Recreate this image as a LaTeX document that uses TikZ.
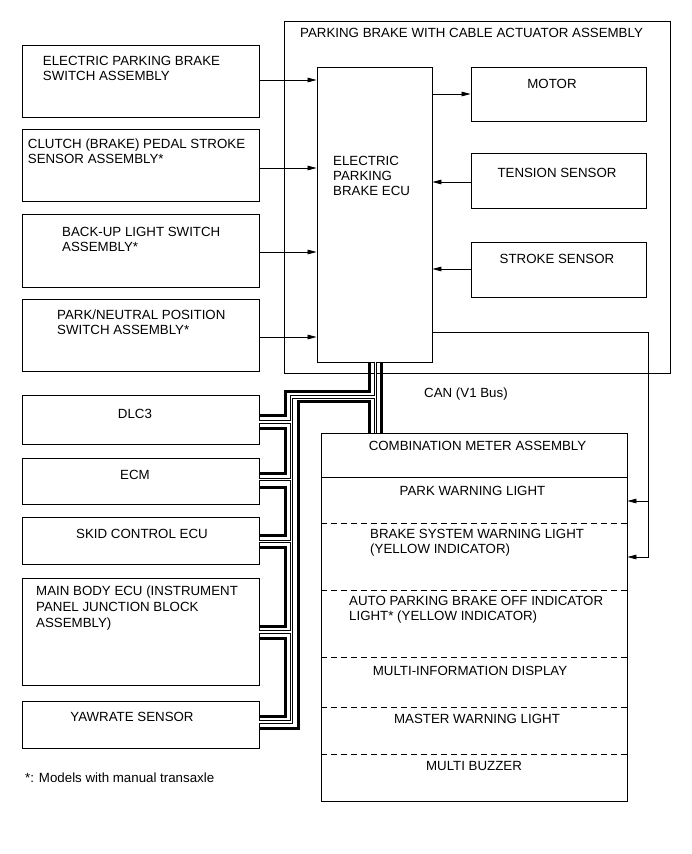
\documentclass[tikz,border=0pt]{standalone}
\usepackage{fontspec}
\setmainfont{Liberation Sans}
\usetikzlibrary{arrows.meta}
\begin{document}
\begin{tikzpicture}[x=1pt,y=-1pt,
  box/.style={draw, line width=0.9pt, inner sep=0pt, rectangle},
  txt/.style={inner sep=0pt, font=\fontsize{13.3pt}{15pt}\selectfont},
  arr/.style={line width=0.8pt, -{Triangle[length=9pt,width=4.6pt]}},
  thk/.style={line width=3pt},
  dbl/.style={double, line width=0.8pt, double distance=1.6pt},
  dsh/.style={line width=0.8pt, dash pattern=on 6pt off 4pt}]
\fill[white] (0,0) rectangle (691,854);
\useasboundingbox (0,0) rectangle (691,854);

% ---- boxes ----
\node[box, minimum width=386pt, minimum height=352pt] (pb) at (477,197.8) {};
\node[box, minimum width=115pt, minimum height=295pt] (ecu) at (374.5,214.5) {};
\node[box, minimum width=175pt, minimum height=54pt] (motor) at (558.5,94) {};
\node[box, minimum width=175pt, minimum height=55pt] (tens) at (558.5,180.5) {};
\node[box, minimum width=175pt, minimum height=55pt] (strk) at (558.5,269.5) {};

\node[box, minimum width=237pt, minimum height=72pt] (epb) at (140.5,81) {};
\node[box, minimum width=237pt, minimum height=72pt] (clutch) at (140.5,165) {};
\node[box, minimum width=237pt, minimum height=73pt] (backup) at (140.5,250.5) {};
\node[box, minimum width=237pt, minimum height=72pt] (park) at (140.5,335) {};

\node[box, minimum width=237pt, minimum height=49pt] (dlc) at (140.5,419.5) {};
\node[box, minimum width=237pt, minimum height=46pt] (ecm) at (140.5,481) {};
\node[box, minimum width=237pt, minimum height=47pt] (skid) at (140.5,540.5) {};
\node[box, minimum width=237pt, minimum height=107pt] (main) at (140.5,631.5) {};
\node[box, minimum width=237pt, minimum height=47pt] (yaw) at (140.5,724.5) {};

\node[box, minimum width=305.3pt, minimum height=368pt] (meter) at (474.35,617) {};

% meter dividers
\draw[line width=0.9pt] (meter.west |- 0,477) -- (meter.east |- 0,477);
\foreach \yy in {523,590,657,707,754}
  \draw[dsh] (meter.west |- 0,\yy) -- (meter.east |- 0,\yy);

% ---- texts ----
\node[txt, anchor=base west] (tpb) at (300,37) {PARKING BRAKE WITH CABLE ACTUATOR ASSEMBLY};
\node[txt, anchor=base west] (tecu1) at (333,165) {ELECTRIC};
\node[txt, anchor=base west] (tecu2) at (333,180) {PARKING};
\node[txt, anchor=base west] (tecu3) at (333,195) {BRAKE ECU};
\node[txt, anchor=base] (tmotor) at (552,88) {MOTOR};
\node[txt, anchor=base] (ttens) at (557,177) {TENSION SENSOR};
\node[txt, anchor=base] (tstrk) at (557,263) {STROKE SENSOR};

\node[txt, anchor=base west] (tepb1) at (42.7,65) {ELECTRIC PARKING BRAKE};
\node[txt, anchor=base west] (tepb2) at (42.7,80) {SWITCH ASSEMBLY};
\node[txt, anchor=base west] (tcl1) at (27.7,148) {CLUTCH (BRAKE) PEDAL STROKE};
\node[txt, anchor=base west] (tcl2) at (27.7,163) {SENSOR ASSEMBLY*};
\node[txt, anchor=base west] (tbu1) at (62,236) {BACK-UP LIGHT SWITCH};
\node[txt, anchor=base west] (tbu2) at (62,251) {ASSEMBLY*};
\node[txt, anchor=base west] (tpk1) at (57,319) {PARK/NEUTRAL POSITION};
\node[txt, anchor=base west] (tpk2) at (57,334.5) {SWITCH ASSEMBLY*};

\node[txt, anchor=base west] (tcan) at (424,397) {CAN (V1 Bus)};
\node[txt, anchor=base] (tdlc) at (135,418) {DLC3};
\node[txt, anchor=base] (tecm) at (135,479) {ECM};
\node[txt, anchor=base] (tskid) at (142,538) {SKID CONTROL ECU};
\node[txt, anchor=base west] (tmb1) at (36,595) {MAIN BODY ECU (INSTRUMENT};
\node[txt, anchor=base west] (tmb2) at (36,611) {PANEL JUNCTION BLOCK};
\node[txt, anchor=base west] (tmb3) at (36,627) {ASSEMBLY)};
\node[txt, anchor=base] (tyaw) at (132,721) {YAWRATE SENSOR};
\node[txt, anchor=base west] (tfoot) at (25,782) {*: Models with manual transaxle};

\node[txt, anchor=base] (tm0) at (477.5,450) {COMBINATION METER ASSEMBLY};
\node[txt, anchor=base] (tm1) at (472.5,495) {PARK WARNING LIGHT};
\node[txt, anchor=base west] (tm2a) at (370,538) {BRAKE SYSTEM WARNING LIGHT};
\node[txt, anchor=base west] (tm2b) at (370,553) {(YELLOW INDICATOR)};
\node[txt, anchor=base west] (tm3a) at (349,605) {AUTO PARKING BRAKE OFF INDICATOR};
\node[txt, anchor=base west] (tm3b) at (349,620) {LIGHT* (YELLOW INDICATOR)};
\node[txt, anchor=base] (tm4) at (470,675) {MULTI-INFORMATION DISPLAY};
\node[txt, anchor=base] (tm5) at (477,723) {MASTER WARNING LIGHT};
\node[txt, anchor=base] (tm6) at (474,770) {MULTI BUZZER};

% ---- signal arrows ----
\draw[arr] (epb.east |- 0,80) -- (ecu.west |- 0,80);
\draw[arr] (clutch.east |- 0,168) -- (ecu.west |- 0,168);
\draw[arr] (backup.east |- 0,252) -- (ecu.west |- 0,252);
\draw[arr] (park.east |- 0,337) -- (ecu.west |- 0,337);
\draw[arr] (ecu.east |- motor.west) -- (motor.west);
\draw[arr] (tens.west |- 0,182) -- (ecu.east |- 0,182);
\draw[arr] (strk.west |- 0,269) -- (ecu.east |- 0,269);

\coordinate (tap) at (648,501);
\draw[arr] (ecu.east |- 0,332) -| (648,557) -- (meter.east |- 0,557);
\draw[arr] (tap) -- (meter.east |- tap);

% ---- CAN bus ----
\coordinate (busA) at ([xshift=-5.5pt]ecu.south);
\coordinate (busD) at ([xshift=1pt]ecu.south);
\coordinate (busG) at ([xshift=6.5pt]ecu.south);

\draw[thk] (busA) |- (285,391) |- ([yshift=4.5pt]dlc.east);
\draw[thk] ([yshift=-8.5pt]dlc.east) -- ++(26,0) |- ([yshift=8pt]ecm.east);
\draw[thk] ([yshift=-6pt]ecm.east) -- ++(26,0) |- ([yshift=5.5pt]skid.east);
\draw[thk] ([yshift=-6.5pt]skid.east) -- ++(26,0) |- ([yshift=5.5pt]main.east);
\draw[thk] ([yshift=-7pt]main.east) -- ++(26,0) |- ([yshift=8.5pt]yaw.east);
\draw[thk] ([yshift=-4pt]yaw.east) -| (298,401) -| (busA |- meter.north);
\draw[thk] (busG) -- (busG |- meter.north);

\draw[dbl] (busD) -- (busD |- meter.north)
  (busD |- 0,397) -| (291.3,722) -- ([yshift=2.5pt]yaw.east)
  ([yshift=-2.5pt]dlc.east) -- ++(32.3,0)
  ([yshift=1.5pt]ecm.east) -- ++(32.3,0)
  ([yshift=-1pt]skid.east) -- ++(32.3,0)
  ([yshift=-0.5pt]main.east) -- ++(32.3,0);
\end{tikzpicture}
\end{document}
